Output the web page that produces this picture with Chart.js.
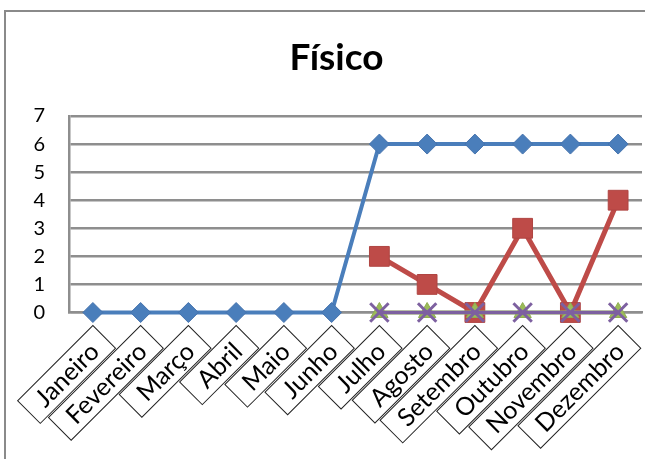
<!DOCTYPE html>
<html>
<head>
<meta charset="utf-8">
<script src="https://cdn.jsdelivr.net/npm/chart.js@4.4.1/dist/chart.umd.min.js"></script>
<style>
html, body { margin:0; padding:0; background:#fff; overflow:hidden; width:645px; height:459px; }
#c { position:absolute; left:0; top:0; }
</style>
</head>
<body>
<canvas id="c" width="645" height="459"></canvas>
<script>
const chartTitle = 'Físico';
const categories = ['Janeiro','Fevereiro','Março','Abril','Maio','Junho','Julho','Agosto','Setembro','Outubro','Novembro','Dezembro'];
const serie1 = [0, 0, 0, 0, 0, 0, 6, 6, 6, 6, 6, 6];
const serie2 = [null, null, null, null, null, null, 2, 1, 0, 3, 0, 4];
const serie3 = [null, null, null, null, null, null, 0, 0, 0, 0, 0, 0];
const serie4 = [null, null, null, null, null, null, 0, 0, 0, 0, 0, 0];
const yMin = 0, yMax = 7, yStep = 1;

const GRID = '#8e8e8e';

const chartFrame = {
  id: 'chartFrame',
  beforeDraw(chart) {
    const ctx = chart.ctx;
    ctx.save();
    ctx.strokeStyle = '#8a8a8a';
    ctx.lineWidth = 2;
    ctx.beginPath();
    ctx.moveTo(5, chart.height + 5);
    ctx.lineTo(5, 11);
    ctx.lineTo(chart.width + 5, 11);
    ctx.stroke();
    ctx.restore();
  }
};

const xLabelBoxes = {
  id: 'xLabelBoxes',
  afterDraw(chart) {
    const ctx = chart.ctx, xs = chart.scales.x, area = chart.chartArea;
    const pad = 14, h = 32, drop = 13;
    ctx.save();
    ctx.font = '25px Lato';
    chart.data.labels.forEach((lab, i) => {
      const x = xs.getPixelForValue(i), y = area.bottom + drop;
      const w = ctx.measureText(lab).width + 2 * pad;
      ctx.save();
      ctx.translate(x, y);
      ctx.rotate(-Math.PI / 4);
      ctx.fillStyle = '#fff';
      ctx.fillRect(-w, 0, w, h);
      ctx.lineWidth = 1;
      ctx.strokeStyle = '#222';
      ctx.strokeRect(-w, 0, w, h);
      ctx.fillStyle = '#000';
      ctx.textAlign = 'center';
      ctx.textBaseline = 'middle';
      ctx.fillText(lab, -w / 2, h / 2 + 1);
      ctx.restore();
    });
    ctx.restore();
  }
};

new Chart(document.getElementById('c'), {
  type: 'line',
  data: {
    labels: categories,
    datasets: [
      { label: 'Série 1', data: serie1, borderColor: '#4A7EBB', backgroundColor: '#4A7EBB',
        borderWidth: 4, pointStyle: 'rectRot', pointRadius: 10, pointBorderWidth: 1,
        pointBorderColor: '#4573AD', pointBackgroundColor: '#4A7EBB', order: 3, clip: false, tension: 0 },
      { label: 'Série 2', data: serie2, borderColor: '#BE4B48', backgroundColor: '#BE4B48',
        borderWidth: 5, pointStyle: 'rect', pointRadius: 14, pointBorderWidth: 1,
        pointBorderColor: '#B04542', pointBackgroundColor: '#BE4B48', order: 2, clip: false, tension: 0 },
      { label: 'Série 3', data: serie3, borderColor: '#9BBB59', backgroundColor: '#9BBB59',
        borderWidth: 4, pointStyle: 'triangle', pointRadius: 10, pointBorderWidth: 1,
        pointBorderColor: '#8FAE50', pointBackgroundColor: '#9BBB59', order: 1, clip: false, tension: 0 },
      { label: 'Série 4', data: serie4, borderColor: '#7D60A0', backgroundColor: '#7D60A0',
        borderWidth: 3.5, pointStyle: 'crossRot', pointRadius: 13, pointBorderWidth: 3,
        pointBorderColor: '#7D60A0', pointBackgroundColor: '#7D60A0', order: 0, clip: false, tension: 0 }
    ]
  },
  options: {
    responsive: false,
    animation: false,
    events: [],
    layout: { autoPadding: false, padding: { left: 31, right: 3, top: 0, bottom: 0 } },
    plugins: {
      legend: { display: false },
      tooltip: { enabled: false },
      title: {
        display: true, text: chartTitle, color: '#000',
        font: { family: 'Lato', size: 37, weight: 'bold', lineHeight: 1.2 },
        padding: { top: 36, bottom: 35.6 }
      }
    },
    scales: {
      x: {
        offset: true,
        ticks: { display: false },
        grid: { display: false },
        border: { color: GRID, width: 2.5 },
        afterFit(s) { s.height = 146.5; }
      },
      y: {
        min: yMin, max: yMax,
        ticks: { stepSize: yStep, color: '#000', font: { family: 'Lato', size: 20 }, padding: 24 },
        grid: { color: GRID, lineWidth: 2.5, drawTicks: false },
        border: { color: GRID, width: 2.5 },
        afterFit(s) { s.width = 38; }
      }
    }
  },
  plugins: [chartFrame, xLabelBoxes]
});
</script>
</body>
</html>
